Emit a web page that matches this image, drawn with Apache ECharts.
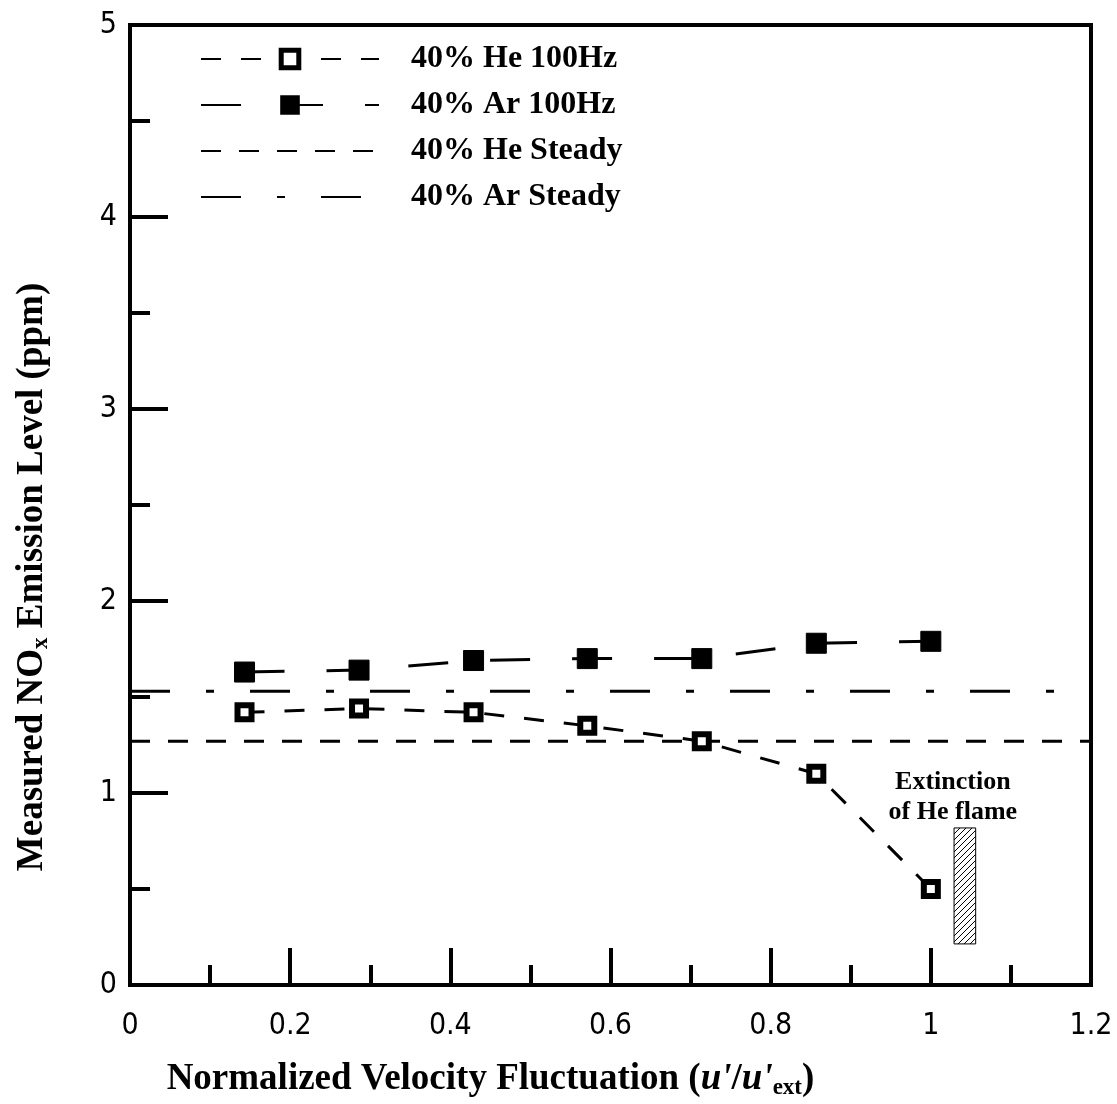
<!DOCTYPE html>
<html>
<head>
<meta charset="utf-8">
<script src="https://cdn.jsdelivr.net/npm/echarts@6/dist/echarts.min.js"></script>
<style>
  html, body { margin: 0; padding: 0; background: #fff; }
  #chart { width: 1117px; height: 1104px; }
</style>
</head>
<body>
<div id="chart"></div>
<script>
// velocity fluctuation points (u'/u'ext)
const xFluct = [0.143, 0.286, 0.429, 0.571, 0.714, 0.857, 1.0]
// measured NOx, ppm
const he100 = [1.42, 1.44, 1.42, 1.35, 1.27, 1.10, 0.50]
const ar100 = [1.63, 1.64, 1.69, 1.70, 1.70, 1.78, 1.79]
const heSteady = 1.27
const arSteady = 1.53
const steadyRange = [0, 1.2]
// extinction band of the He flame
const extX = [1.029, 1.056]
const extY = [0.214, 0.818]
const extLabel = ['Extinction', 'of He flame']

const serif = "'Liberation Serif', 'Times New Roman', serif"
const sans = "'DejaVu Sans Condensed', 'Liberation Sans Narrow', 'Liberation Sans', Arial, sans-serif"

//斜线填充
function hatch() {
    const c = document.createElement('canvas')
    c.width = 6
    c.height = 6
    const ctx = c.getContext('2d')
    ctx.fillStyle = '#fff'
    ctx.fillRect(0, 0, 6, 6)
    ctx.strokeStyle = '#000'
    ctx.lineWidth = 1
    ctx.beginPath()
    ctx.moveTo(-1, 7); ctx.lineTo(7, -1)
    ctx.moveTo(-1, 1); ctx.lineTo(1, -1)
    ctx.moveTo(5, 7); ctx.lineTo(7, 5)
    ctx.stroke()
    return c
}

const chart = echarts.init(document.getElementById('chart'))

const option = {
    backgroundColor: '#fff',
    animation: false,
    grid: {
        left: 130, right: 26, top: 25, bottom: 119,
        show: true, borderColor: '#000', borderWidth: 4,
        outerBoundsMode: 'none'
    },
    legend: {
        left: 195, top: 38, orient: 'vertical',
        itemWidth: 178, itemHeight: 22, itemGap: 14,
        data: [
            { name: '40% He 100Hz', itemStyle: { borderWidth: 5 } },
            { name: '40% Ar 100Hz' },
            { name: '40% He Steady', itemStyle: { opacity: 0 } },
            { name: '40% Ar Steady', itemStyle: { opacity: 0 } }
        ],
        textStyle: {
            fontFamily: serif, fontWeight: 'bold', fontSize: 32, color: '#000',
            padding: [0, 0, 0, 27]
        }
    },
    xAxis: {
        type: 'value', min: 0, max: 1.2, interval: 0.2,
        name: "{b|Normalized Velocity Fluctuation (}{i|u'}{b|/}{i|u'}{s|ext}{b|)}",
        nameLocation: 'middle', nameGap: 74,
        nameTextStyle: {
            padding: [0, 240, 0, 0],
            rich: {
                b: { fontFamily: serif, fontWeight: 'bold', fontSize: 37, color: '#000' },
                i: { fontFamily: serif, fontWeight: 'bold', fontStyle: 'italic', fontSize: 37, color: '#000' },
                s: { fontFamily: serif, fontWeight: 'bold', fontSize: 23, color: '#000', padding: [18, 0, 0, 0] }
            }
        },
        axisLine: { show: true, lineStyle: { color: '#000', width: 4 } },
        axisTick: { show: true, inside: true, length: 37, lineStyle: { color: '#000', width: 4 } },
        minorTick: { show: true, splitNumber: 2, length: 20, lineStyle: { color: '#000', width: 4 } },
        splitLine: { show: false },
        axisLabel: {
            margin: 26, fontFamily: sans, fontSize: 30, color: '#000',
            formatter: v => String(+v.toFixed(1))
        }
    },
    yAxis: {
        type: 'value', min: 0, max: 5, interval: 1,
        name: '{b|Measured NO}{s|x}{b| Emission Level (ppm)}',
        nameLocation: 'middle', nameGap: 77,
        nameTextStyle: {
            padding: [0, 144, 0, 0],
            rich: {
                b: { fontFamily: serif, fontWeight: 'bold', fontSize: 37, color: '#000' },
                s: { fontFamily: serif, fontWeight: 'bold', fontSize: 23, color: '#000', padding: [18, 0, 0, 0] }
            }
        },
        axisLine: { show: true, lineStyle: { color: '#000', width: 4 } },
        axisTick: { show: true, inside: true, length: 38, lineStyle: { color: '#000', width: 4 } },
        minorTick: { show: true, splitNumber: 2, length: 20, lineStyle: { color: '#000', width: 4 } },
        splitLine: { show: false },
        axisLabel: { margin: 13, fontFamily: sans, fontSize: 30, color: '#000' }
    },
    series: [
        {
            name: '40% He Steady', type: 'line', symbol: 'none', z: 2,
            data: steadyRange.map(x => [x, heSteady]),
            itemStyle: { color: '#000' },
            lineStyle: { color: '#000', width: 3, type: [20, 18] }
        },
        {
            name: '40% Ar Steady', type: 'line', symbol: 'none', z: 2,
            data: steadyRange.map(x => [x, arSteady]),
            itemStyle: { color: '#000' },
            lineStyle: { color: '#000', width: 3, type: [40, 36, 8, 36] }
        },
        {
            name: '40% He 100Hz', type: 'line', z: 3,
            data: xFluct.map((x, i) => [x, he100[i]]),
            symbol: 'rect', symbolSize: 14,
            itemStyle: { color: '#fff', borderColor: '#000', borderWidth: 6 },
            lineStyle: { color: '#000', width: 3, type: [20, 20] }
        },
        {
            name: '40% Ar 100Hz', type: 'line', z: 3,
            data: xFluct.map((x, i) => [x, ar100[i]]),
            symbol: 'rect', symbolSize: 20,
            itemStyle: { color: '#000', borderColor: '#000', borderWidth: 1 },
            lineStyle: { color: '#000', width: 3, type: [40, 42] }
        },
        {
            name: 'extinction', type: 'custom', z: 4, silent: true,
            data: [[extX[0], extY[0], extX[1], extY[1]]],
            renderItem: (params, api) => {
                const p0 = api.coord([api.value(0), api.value(3)])
                const p1 = api.coord([api.value(2), api.value(1)])
                return {
                    type: 'group',
                    children: [
                        {
                            type: 'rect',
                            shape: { x: p0[0], y: p0[1], width: p1[0] - p0[0], height: p1[1] - p0[1] },
                            style: { fill: { image: hatch(), repeat: 'repeat' }, stroke: '#000', lineWidth: 1 }
                        },
                        {
                            type: 'text',
                            x: (p0[0] + p1[0]) / 2 - 12, y: p0[1] - 1,
                            style: {
                                text: extLabel.join('\n'), align: 'center', verticalAlign: 'bottom',
                                fontFamily: serif, fontWeight: 'bold', fontSize: 26, lineHeight: 30, fill: '#000'
                            }
                        }
                    ]
                }
            }
        }
    ]
}
chart.setOption(option)
</script>
</body>
</html>
